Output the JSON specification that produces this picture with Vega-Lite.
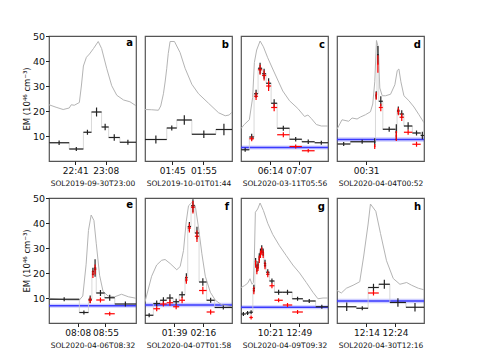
{
"$schema": "https://vega.github.io/schema/vega-lite/v6.json",
"background": "white",
"padding": {"left": 21, "top": 30, "right": 5, "bottom": 5},
"config": {
 "font": "DejaVu Sans",
 "view": {"stroke": "#555555", "strokeWidth": 1.2},
 "axis": {"grid": false, "domain": false, "tickColor": "#222222", "labelColor": "#111111", "titleColor": "#111111", "titleFontWeight": "normal", "labelOverlap": false, "labelFlush": false},
 "axisX": {"labelFontSize": 9, "titleFontSize": 7.5, "tickSize": 3.5, "labelPadding": 1.5, "titlePadding": 4,
   "labelExpr": "(utchours(datum.value) < 10 ? '0' : '') + utchours(datum.value) + ':' + (utcminutes(datum.value) < 10 ? '0' : '') + utcminutes(datum.value)"},
 "axisY": {"labelFontSize": 9.5, "titleFontSize": 8.5, "tickSize": 3.5, "labelPadding": 1, "titlePadding": 1},
 "title": {"fontSize": 10, "fontWeight": "bold", "anchor": "end", "frame": "group", "offset": -14, "dx": -3, "color": "#000000"}
},
"data": {"values": [
{"p":"a","k":"c","t":"2019-09-30T22:17:36Z","v":22.5},
{"p":"a","k":"c","t":"2019-09-30T22:23:54Z","v":21.5},
{"p":"a","k":"c","t":"2019-09-30T22:30:12Z","v":20.6},
{"p":"a","k":"c","t":"2019-09-30T22:35:36Z","v":21.2},
{"p":"a","k":"c","t":"2019-09-30T22:37:24Z","v":22.5},
{"p":"a","k":"c","t":"2019-09-30T22:40:06Z","v":22.3},
{"p":"a","k":"c","t":"2019-09-30T22:44:36Z","v":23.4},
{"p":"a","k":"c","t":"2019-09-30T22:46:24Z","v":30.0},
{"p":"a","k":"c","t":"2019-09-30T22:48:12Z","v":38.0},
{"p":"a","k":"c","t":"2019-09-30T22:50:54Z","v":41.5},
{"p":"a","k":"c","t":"2019-09-30T22:53:36Z","v":42.8},
{"p":"a","k":"c","t":"2019-09-30T22:57:12Z","v":45.0},
{"p":"a","k":"c","t":"2019-09-30T23:01:24Z","v":47.8},
{"p":"a","k":"c","t":"2019-09-30T23:04:24Z","v":45.0},
{"p":"a","k":"c","t":"2019-09-30T23:08:54Z","v":37.1},
{"p":"a","k":"c","t":"2019-09-30T23:13:24Z","v":30.1},
{"p":"a","k":"c","t":"2019-09-30T23:17:54Z","v":26.3},
{"p":"a","k":"c","t":"2019-09-30T23:23:57Z","v":24.4},
{"p":"a","k":"c","t":"2019-09-30T23:29:36Z","v":23.7},
{"p":"a","k":"c","t":"2019-09-30T23:35:00Z","v":22.1},
{"p":"a","k":"b","t":"2019-09-30T22:26:36Z","t0":"2019-09-30T22:17:36Z","t1":"2019-09-30T22:35:36Z","v":7.3,"e":0.9},
{"p":"a","k":"b","t":"2019-09-30T22:41:54Z","t0":"2019-09-30T22:35:36Z","t1":"2019-09-30T22:48:12Z","v":4.8,"e":0.8},
{"p":"a","k":"b","t":"2019-09-30T22:51:48Z","t0":"2019-09-30T22:48:12Z","t1":"2019-09-30T22:55:24Z","v":11.5,"e":1.0},
{"p":"a","k":"b","t":"2019-09-30T22:59:54Z","t0":"2019-09-30T22:55:24Z","t1":"2019-09-30T23:04:24Z","v":19.6,"e":1.8},
{"p":"a","k":"b","t":"2019-09-30T23:07:33Z","t0":"2019-09-30T23:04:24Z","t1":"2019-09-30T23:10:42Z","v":13.6,"e":1.3},
{"p":"a","k":"b","t":"2019-09-30T23:15:39Z","t0":"2019-09-30T23:10:42Z","t1":"2019-09-30T23:20:36Z","v":9.4,"e":1.3},
{"p":"a","k":"b","t":"2019-09-30T23:27:48Z","t0":"2019-09-30T23:20:36Z","t1":"2019-09-30T23:35:00Z","v":7.5,"e":1.0},

{"p":"b","k":"c","t":"2019-10-01T01:36:12Z","v":20.6},
{"p":"b","k":"c","t":"2019-10-01T01:38:22Z","v":20.5},
{"p":"b","k":"c","t":"2019-10-01T01:40:31Z","v":20.3},
{"p":"b","k":"c","t":"2019-10-01T01:41:16Z","v":22.0},
{"p":"b","k":"c","t":"2019-10-01T01:42:08Z","v":26.9},
{"p":"b","k":"c","t":"2019-10-01T01:42:43Z","v":32.0},
{"p":"b","k":"c","t":"2019-10-01T01:43:12Z","v":37.1},
{"p":"b","k":"c","t":"2019-10-01T01:43:41Z","v":43.0},
{"p":"b","k":"c","t":"2019-10-01T01:44:16Z","v":47.8},
{"p":"b","k":"c","t":"2019-10-01T01:45:41Z","v":47.8},
{"p":"b","k":"c","t":"2019-10-01T01:47:29Z","v":43.4},
{"p":"b","k":"c","t":"2019-10-01T01:49:06Z","v":37.1},
{"p":"b","k":"c","t":"2019-10-01T01:51:16Z","v":30.7},
{"p":"b","k":"c","t":"2019-10-01T01:53:26Z","v":26.9},
{"p":"b","k":"c","t":"2019-10-01T01:56:39Z","v":23.1},
{"p":"b","k":"c","t":"2019-10-01T01:59:53Z","v":19.3},
{"p":"b","k":"c","t":"2019-10-01T02:02:01Z","v":18.1},
{"p":"b","k":"c","t":"2019-10-01T02:03:18Z","v":18.4},
{"p":"b","k":"c","t":"2019-10-01T02:04:12Z","v":19.6},
{"p":"b","k":"b","t":"2019-10-01T01:39:42Z","t0":"2019-10-01T01:36:12Z","t1":"2019-10-01T01:43:12Z","v":8.6,"e":1.6},
{"p":"b","k":"b","t":"2019-10-01T01:44:49Z","t0":"2019-10-01T01:43:12Z","t1":"2019-10-01T01:46:26Z","v":13.2,"e":1.0},
{"p":"b","k":"b","t":"2019-10-01T01:48:51Z","t0":"2019-10-01T01:46:26Z","t1":"2019-10-01T01:51:16Z","v":16.4,"e":1.9},
{"p":"b","k":"b","t":"2019-10-01T01:55:08Z","t0":"2019-10-01T01:51:16Z","t1":"2019-10-01T01:59:00Z","v":10.7,"e":1.5},
{"p":"b","k":"b","t":"2019-10-01T02:01:36Z","t0":"2019-10-01T01:59:00Z","t1":"2019-10-01T02:04:12Z","v":12.6,"e":2.3},

{"p":"c","k":"g","v":5.4,"lo":4.6,"hi":6.2},
{"p":"c","k":"c","t":"2020-03-11T05:20:18Z","v":13.0},
{"p":"c","k":"c","t":"2020-03-11T05:26:25Z","v":14.6},
{"p":"c","k":"c","t":"2020-03-11T05:35:41Z","v":16.5},
{"p":"c","k":"c","t":"2020-03-11T05:41:47Z","v":25.4},
{"p":"c","k":"c","t":"2020-03-11T05:44:57Z","v":39.4},
{"p":"c","k":"c","t":"2020-03-11T05:49:12Z","v":44.4},
{"p":"c","k":"c","t":"2020-03-11T05:55:30Z","v":48.0},
{"p":"c","k":"c","t":"2020-03-11T06:01:37Z","v":45.7},
{"p":"c","k":"c","t":"2020-03-11T06:09:35Z","v":41.3},
{"p":"c","k":"c","t":"2020-03-11T06:18:51Z","v":36.8},
{"p":"c","k":"c","t":"2020-03-11T06:28:07Z","v":32.4},
{"p":"c","k":"c","t":"2020-03-11T06:37:23Z","v":28.0},
{"p":"c","k":"c","t":"2020-03-11T06:49:48Z","v":24.1},
{"p":"c","k":"c","t":"2020-03-11T07:05:11Z","v":21.0},
{"p":"c","k":"c","t":"2020-03-11T07:17:35Z","v":17.8},
{"p":"c","k":"c","t":"2020-03-11T07:23:43Z","v":18.4},
{"p":"c","k":"c","t":"2020-03-11T07:30:01Z","v":17.0},
{"p":"c","k":"c","t":"2020-03-11T07:39:17Z","v":14.6},
{"p":"c","k":"c","t":"2020-03-11T07:48:32Z","v":14.0},
{"p":"c","k":"c","t":"2020-03-11T08:00:48Z","v":14.0},
{"p":"c","k":"b","t":"2020-03-11T05:28:00Z","t0":"2020-03-11T05:20:18Z","t1":"2020-03-11T05:35:41Z","v":4.5,"e":0.8},
{"p":"c","k":"b","t":"2020-03-11T05:40:02Z","t0":"2020-03-11T05:35:41Z","t1":"2020-03-11T05:44:23Z","v":9.6,"e":1.3},
{"p":"c","k":"b","t":"2020-03-11T05:48:06Z","t0":"2020-03-11T05:44:23Z","t1":"2020-03-11T05:51:48Z","v":26.9,"e":1.6},
{"p":"c","k":"b","t":"2020-03-11T05:55:30Z","t0":"2020-03-11T05:51:48Z","t1":"2020-03-11T05:59:13Z","v":37.1,"e":2.2},
{"p":"c","k":"b","t":"2020-03-11T06:02:56Z","t0":"2020-03-11T05:59:13Z","t1":"2020-03-11T06:06:38Z","v":34.9,"e":2.0},
{"p":"c","k":"b","t":"2020-03-11T06:11:16Z","t0":"2020-03-11T06:06:38Z","t1":"2020-03-11T06:15:53Z","v":31.1,"e":2.0},
{"p":"c","k":"b","t":"2020-03-11T06:21:27Z","t0":"2020-03-11T06:15:53Z","t1":"2020-03-11T06:27:01Z","v":23.1,"e":1.6},
{"p":"c","k":"b","t":"2020-03-11T06:38:24Z","t0":"2020-03-11T06:27:01Z","t1":"2020-03-11T06:49:48Z","v":13.1,"e":1.0},
{"p":"c","k":"b","t":"2020-03-11T07:01:12Z","t0":"2020-03-11T06:49:48Z","t1":"2020-03-11T07:12:35Z","v":8.7,"e":0.9},
{"p":"c","k":"b","t":"2020-03-11T07:24:21Z","t0":"2020-03-11T07:12:35Z","t1":"2020-03-11T07:36:07Z","v":7.7,"e":0.9},
{"p":"c","k":"b","t":"2020-03-11T07:48:28Z","t0":"2020-03-11T07:36:07Z","t1":"2020-03-11T08:00:48Z","v":7.3,"e":0.8},
{"p":"c","k":"r","t":"2020-03-11T05:40:02Z","t0":"2020-03-11T05:35:41Z","t1":"2020-03-11T05:44:23Z","v":8.9,"e":1.0},
{"p":"c","k":"r","t":"2020-03-11T05:48:06Z","t0":"2020-03-11T05:44:23Z","t1":"2020-03-11T05:51:48Z","v":25.9,"e":1.5},
{"p":"c","k":"r","t":"2020-03-11T05:55:30Z","t0":"2020-03-11T05:51:48Z","t1":"2020-03-11T05:59:13Z","v":36.5,"e":2.0},
{"p":"c","k":"r","t":"2020-03-11T06:02:56Z","t0":"2020-03-11T05:59:13Z","t1":"2020-03-11T06:06:38Z","v":34.2,"e":2.0},
{"p":"c","k":"r","t":"2020-03-11T06:11:16Z","t0":"2020-03-11T06:06:38Z","t1":"2020-03-11T06:15:53Z","v":30.0,"e":2.0},
{"p":"c","k":"r","t":"2020-03-11T06:21:27Z","t0":"2020-03-11T06:15:53Z","t1":"2020-03-11T06:27:01Z","v":21.4,"e":1.5},
{"p":"c","k":"r","t":"2020-03-11T06:38:24Z","t0":"2020-03-11T06:27:01Z","t1":"2020-03-11T06:49:48Z","v":10.5,"e":1.0},
{"p":"c","k":"r","t":"2020-03-11T07:01:12Z","t0":"2020-03-11T06:49:48Z","t1":"2020-03-11T07:12:35Z","v":5.8,"e":0.8},
{"p":"c","k":"r","t":"2020-03-11T07:24:21Z","t0":"2020-03-11T07:12:35Z","t1":"2020-03-11T07:36:07Z","v":4.1,"e":0.7},

{"p":"d","k":"g","v":8.6,"lo":7.7,"hi":9.5},
{"p":"d","k":"c","t":"2020-04-03T23:34:10Z","v":12.7},
{"p":"d","k":"c","t":"2020-04-03T23:43:58Z","v":16.5},
{"p":"d","k":"c","t":"2020-04-03T23:56:54Z","v":15.9},
{"p":"d","k":"c","t":"2020-04-04T00:03:34Z","v":17.2},
{"p":"d","k":"c","t":"2020-04-04T00:13:22Z","v":16.8},
{"p":"d","k":"c","t":"2020-04-04T00:19:50Z","v":17.6},
{"p":"d","k":"c","t":"2020-04-04T00:29:38Z","v":18.5},
{"p":"d","k":"c","t":"2020-04-04T00:39:26Z","v":19.7},
{"p":"d","k":"c","t":"2020-04-04T00:43:56Z","v":22.8},
{"p":"d","k":"c","t":"2020-04-04T00:47:52Z","v":31.7},
{"p":"d","k":"c","t":"2020-04-04T00:51:11Z","v":48.2},
{"p":"d","k":"c","t":"2020-04-04T00:54:31Z","v":45.6},
{"p":"d","k":"c","t":"2020-04-04T00:57:40Z","v":29.2},
{"p":"d","k":"c","t":"2020-04-04T01:02:22Z","v":26.1},
{"p":"d","k":"c","t":"2020-04-04T01:08:50Z","v":26.1},
{"p":"d","k":"c","t":"2020-04-04T01:18:38Z","v":26.7},
{"p":"d","k":"c","t":"2020-04-04T01:27:04Z","v":30.5},
{"p":"d","k":"c","t":"2020-04-04T01:31:46Z","v":36.2},
{"p":"d","k":"c","t":"2020-04-04T01:34:54Z","v":36.8},
{"p":"d","k":"c","t":"2020-04-04T01:38:49Z","v":31.7},
{"p":"d","k":"c","t":"2020-04-04T01:44:42Z","v":26.1},
{"p":"d","k":"c","t":"2020-04-04T01:54:30Z","v":24.1},
{"p":"d","k":"c","t":"2020-04-04T02:04:18Z","v":21.6},
{"p":"d","k":"c","t":"2020-04-04T02:14:06Z","v":18.5},
{"p":"d","k":"c","t":"2020-04-04T02:23:54Z","v":15.3},
{"p":"d","k":"b","t":"2020-04-03T23:47:12Z","t0":"2020-04-03T23:34:10Z","t1":"2020-04-04T00:00:14Z","v":6.8,"e":0.8},
{"p":"d","k":"b","t":"2020-04-04T00:23:16Z","t0":"2020-04-04T00:00:14Z","t1":"2020-04-04T00:46:17Z","v":7.7,"e":0.8},
{"p":"d","k":"b","t":"2020-04-04T00:47:46Z","t0":"2020-04-04T00:46:17Z","t1":"2020-04-04T00:49:14Z","v":7.6,"e":1.5},
{"p":"d","k":"b","t":"2020-04-04T00:50:42Z","t0":"2020-04-04T00:49:14Z","t1":"2020-04-04T00:52:10Z","v":26.4,"e":1.5},
{"p":"d","k":"b","t":"2020-04-04T00:53:56Z","t0":"2020-04-04T00:52:10Z","t1":"2020-04-04T00:55:42Z","v":42.5,"e":3.5},
{"p":"d","k":"b","t":"2020-04-04T00:59:37Z","t0":"2020-04-04T00:55:42Z","t1":"2020-04-04T01:03:32Z","v":23.9,"e":2.0},
{"p":"d","k":"b","t":"2020-04-04T01:15:59Z","t0":"2020-04-04T01:03:32Z","t1":"2020-04-04T01:28:26Z","v":12.7,"e":1.0},
{"p":"d","k":"b","t":"2020-04-04T01:29:54Z","t0":"2020-04-04T01:28:26Z","t1":"2020-04-04T01:31:22Z","v":11.5,"e":3.2},
{"p":"d","k":"b","t":"2020-04-04T01:33:49Z","t0":"2020-04-04T01:31:22Z","t1":"2020-04-04T01:36:16Z","v":20.3,"e":1.5},
{"p":"d","k":"b","t":"2020-04-04T01:40:29Z","t0":"2020-04-04T01:36:16Z","t1":"2020-04-04T01:44:42Z","v":18.8,"e":1.5},
{"p":"d","k":"b","t":"2020-04-04T01:52:56Z","t0":"2020-04-04T01:44:42Z","t1":"2020-04-04T02:01:10Z","v":14.0,"e":1.5},
{"p":"d","k":"b","t":"2020-04-04T02:09:18Z","t0":"2020-04-04T02:01:10Z","t1":"2020-04-04T02:17:26Z","v":11.2,"e":1.0},
{"p":"d","k":"b","t":"2020-04-04T02:20:40Z","t0":"2020-04-04T02:17:26Z","t1":"2020-04-04T02:23:54Z","v":10.2,"e":1.5},
{"p":"d","k":"r","t":"2020-04-04T00:47:46Z","t0":"2020-04-04T00:46:17Z","t1":"2020-04-04T00:49:14Z","v":5.8,"e":1.0},
{"p":"d","k":"r","t":"2020-04-04T00:50:42Z","t0":"2020-04-04T00:49:14Z","t1":"2020-04-04T00:52:10Z","v":26.0,"e":1.5},
{"p":"d","k":"r","t":"2020-04-04T00:53:56Z","t0":"2020-04-04T00:52:10Z","t1":"2020-04-04T00:55:42Z","v":38.8,"e":3.5},
{"p":"d","k":"r","t":"2020-04-04T00:59:37Z","t0":"2020-04-04T00:55:42Z","t1":"2020-04-04T01:03:32Z","v":21.4,"e":1.5},
{"p":"d","k":"r","t":"2020-04-04T01:29:54Z","t0":"2020-04-04T01:28:26Z","t1":"2020-04-04T01:31:22Z","v":10.0,"e":2.0},
{"p":"d","k":"r","t":"2020-04-04T01:33:49Z","t0":"2020-04-04T01:31:22Z","t1":"2020-04-04T01:36:16Z","v":19.8,"e":1.5},
{"p":"d","k":"r","t":"2020-04-04T01:40:29Z","t0":"2020-04-04T01:36:16Z","t1":"2020-04-04T01:44:42Z","v":17.5,"e":1.5},
{"p":"d","k":"r","t":"2020-04-04T01:52:56Z","t0":"2020-04-04T01:44:42Z","t1":"2020-04-04T02:01:10Z","v":11.5,"e":1.0},
{"p":"d","k":"r","t":"2020-04-04T02:09:18Z","t0":"2020-04-04T02:01:10Z","t1":"2020-04-04T02:17:26Z","v":6.7,"e":1.0},

{"p":"e","k":"g","v":6.9,"lo":6.1,"hi":7.7},
{"p":"e","k":"c","t":"2020-04-06T07:19:06Z","v":9.9},
{"p":"e","k":"c","t":"2020-04-06T07:50:45Z","v":9.2},
{"p":"e","k":"c","t":"2020-04-06T08:10:42Z","v":9.2},
{"p":"e","k":"c","t":"2020-04-06T08:16:33Z","v":10.8},
{"p":"e","k":"c","t":"2020-04-06T08:22:13Z","v":23.5},
{"p":"e","k":"c","t":"2020-04-06T08:26:11Z","v":37.0},
{"p":"e","k":"c","t":"2020-04-06T08:30:49Z","v":43.2},
{"p":"e","k":"c","t":"2020-04-06T08:35:28Z","v":41.0},
{"p":"e","k":"c","t":"2020-04-06T08:39:25Z","v":31.9},
{"p":"e","k":"c","t":"2020-04-06T08:45:06Z","v":19.1},
{"p":"e","k":"c","t":"2020-04-06T08:50:57Z","v":12.7},
{"p":"e","k":"c","t":"2020-04-06T08:59:33Z","v":10.8},
{"p":"e","k":"c","t":"2020-04-06T09:10:54Z","v":10.5},
{"p":"e","k":"c","t":"2020-04-06T09:22:25Z","v":11.5},
{"p":"e","k":"c","t":"2020-04-06T09:33:57Z","v":10.5},
{"p":"e","k":"c","t":"2020-04-06T09:47:00Z","v":9.9},
{"p":"e","k":"b","t":"2020-04-06T07:44:54Z","t0":"2020-04-06T07:19:06Z","t1":"2020-04-06T08:10:42Z","v":9.5,"e":0.8},
{"p":"e","k":"b","t":"2020-04-06T08:18:26Z","t0":"2020-04-06T08:10:42Z","t1":"2020-04-06T08:26:11Z","v":4.2,"e":0.8},
{"p":"e","k":"b","t":"2020-04-06T08:29:06Z","t0":"2020-04-06T08:26:11Z","t1":"2020-04-06T08:32:02Z","v":9.5,"e":1.5},
{"p":"e","k":"b","t":"2020-04-06T08:33:45Z","t0":"2020-04-06T08:32:02Z","t1":"2020-04-06T08:35:28Z","v":20.6,"e":1.5},
{"p":"e","k":"b","t":"2020-04-06T08:37:26Z","t0":"2020-04-06T08:35:28Z","t1":"2020-04-06T08:39:25Z","v":22.0,"e":3.5},
{"p":"e","k":"b","t":"2020-04-06T08:46:34Z","t0":"2020-04-06T08:39:25Z","t1":"2020-04-06T08:53:42Z","v":12.0,"e":1.2},
{"p":"e","k":"b","t":"2020-04-06T09:02:18Z","t0":"2020-04-06T08:53:42Z","t1":"2020-04-06T09:10:54Z","v":10.1,"e":1.2},
{"p":"e","k":"b","t":"2020-04-06T09:28:57Z","t0":"2020-04-06T09:10:54Z","t1":"2020-04-06T09:47:00Z","v":7.6,"e":1.0},
{"p":"e","k":"r","t":"2020-04-06T08:29:06Z","t0":"2020-04-06T08:26:11Z","t1":"2020-04-06T08:32:02Z","v":9.1,"e":1.2},
{"p":"e","k":"r","t":"2020-04-06T08:33:45Z","t0":"2020-04-06T08:32:02Z","t1":"2020-04-06T08:35:28Z","v":19.5,"e":1.5},
{"p":"e","k":"r","t":"2020-04-06T08:37:26Z","t0":"2020-04-06T08:35:28Z","t1":"2020-04-06T08:39:25Z","v":21.4,"e":2.0},
{"p":"e","k":"r","t":"2020-04-06T08:46:34Z","t0":"2020-04-06T08:39:25Z","t1":"2020-04-06T08:53:42Z","v":9.2,"e":1.0},
{"p":"e","k":"r","t":"2020-04-06T09:02:18Z","t0":"2020-04-06T08:53:42Z","t1":"2020-04-06T09:10:54Z","v":3.7,"e":0.8},

{"p":"f","k":"g","v":7.2,"lo":6.3,"hi":8.1},
{"p":"f","k":"c","t":"2020-04-07T01:01:30Z","v":8.5},
{"p":"f","k":"c","t":"2020-04-07T01:05:46Z","v":13.6},
{"p":"f","k":"c","t":"2020-04-07T01:10:02Z","v":18.7},
{"p":"f","k":"c","t":"2020-04-07T01:16:31Z","v":23.2},
{"p":"f","k":"c","t":"2020-04-07T01:22:59Z","v":25.1},
{"p":"f","k":"c","t":"2020-04-07T01:27:23Z","v":25.4},
{"p":"f","k":"c","t":"2020-04-07T01:33:51Z","v":23.8},
{"p":"f","k":"c","t":"2020-04-07T01:42:23Z","v":21.3},
{"p":"f","k":"c","t":"2020-04-07T01:46:47Z","v":22.6},
{"p":"f","k":"c","t":"2020-04-07T01:51:04Z","v":29.0},
{"p":"f","k":"c","t":"2020-04-07T01:54:33Z","v":40.5},
{"p":"f","k":"c","t":"2020-04-07T01:57:32Z","v":46.9},
{"p":"f","k":"c","t":"2020-04-07T02:01:48Z","v":48.2},
{"p":"f","k":"c","t":"2020-04-07T02:06:12Z","v":46.9},
{"p":"f","k":"c","t":"2020-04-07T02:10:28Z","v":38.0},
{"p":"f","k":"c","t":"2020-04-07T02:14:44Z","v":27.7},
{"p":"f","k":"c","t":"2020-04-07T02:19:08Z","v":18.7},
{"p":"f","k":"c","t":"2020-04-07T02:25:37Z","v":12.3},
{"p":"f","k":"c","t":"2020-04-07T02:32:05Z","v":9.1},
{"p":"f","k":"c","t":"2020-04-07T02:40:37Z","v":7.2},
{"p":"f","k":"c","t":"2020-04-07T02:53:30Z","v":6.5},
{"p":"f","k":"b","t":"2020-04-07T01:06:52Z","t0":"2020-04-07T01:01:30Z","t1":"2020-04-07T01:12:14Z","v":3.1,"e":0.8},
{"p":"f","k":"b","t":"2020-04-07T01:16:34Z","t0":"2020-04-07T01:12:14Z","t1":"2020-04-07T01:20:55Z","v":7.8,"e":1.2},
{"p":"f","k":"b","t":"2020-04-07T01:25:11Z","t0":"2020-04-07T01:20:55Z","t1":"2020-04-07T01:29:27Z","v":9.1,"e":1.2},
{"p":"f","k":"b","t":"2020-04-07T01:33:36Z","t0":"2020-04-07T01:29:27Z","t1":"2020-04-07T01:37:44Z","v":10.0,"e":1.5},
{"p":"f","k":"b","t":"2020-04-07T01:41:37Z","t0":"2020-04-07T01:37:44Z","t1":"2020-04-07T01:45:30Z","v":8.5,"e":1.2},
{"p":"f","k":"b","t":"2020-04-07T01:49:15Z","t0":"2020-04-07T01:45:30Z","t1":"2020-04-07T01:53:00Z","v":11.3,"e":1.3},
{"p":"f","k":"b","t":"2020-04-07T01:54:45Z","t0":"2020-04-07T01:53:00Z","t1":"2020-04-07T01:56:30Z","v":18.1,"e":1.8},
{"p":"f","k":"b","t":"2020-04-07T01:58:38Z","t0":"2020-04-07T01:56:30Z","t1":"2020-04-07T02:00:46Z","v":38.6,"e":1.8},
{"p":"f","k":"b","t":"2020-04-07T02:03:14Z","t0":"2020-04-07T02:00:46Z","t1":"2020-04-07T02:05:41Z","v":46.9,"e":2.6},
{"p":"f","k":"b","t":"2020-04-07T02:08:24Z","t0":"2020-04-07T02:05:41Z","t1":"2020-04-07T02:11:07Z","v":36.0,"e":2.5},
{"p":"f","k":"b","t":"2020-04-07T02:15:58Z","t0":"2020-04-07T02:11:07Z","t1":"2020-04-07T02:20:49Z","v":16.4,"e":1.5},
{"p":"f","k":"b","t":"2020-04-07T02:26:00Z","t0":"2020-04-07T02:20:49Z","t1":"2020-04-07T02:31:10Z","v":9.1,"e":1.0},
{"p":"f","k":"b","t":"2020-04-07T02:42:20Z","t0":"2020-04-07T02:31:10Z","t1":"2020-04-07T02:53:30Z","v":6.2,"e":0.8},
{"p":"f","k":"r","t":"2020-04-07T01:16:34Z","t0":"2020-04-07T01:12:14Z","t1":"2020-04-07T01:20:55Z","v":5.7,"e":1.0},
{"p":"f","k":"r","t":"2020-04-07T01:25:11Z","t0":"2020-04-07T01:20:55Z","t1":"2020-04-07T01:29:27Z","v":7.6,"e":1.0},
{"p":"f","k":"r","t":"2020-04-07T01:33:36Z","t0":"2020-04-07T01:29:27Z","t1":"2020-04-07T01:37:44Z","v":8.1,"e":1.2},
{"p":"f","k":"r","t":"2020-04-07T01:41:37Z","t0":"2020-04-07T01:37:44Z","t1":"2020-04-07T01:45:30Z","v":6.5,"e":1.0},
{"p":"f","k":"r","t":"2020-04-07T01:49:15Z","t0":"2020-04-07T01:45:30Z","t1":"2020-04-07T01:53:00Z","v":9.1,"e":1.2},
{"p":"f","k":"r","t":"2020-04-07T01:54:45Z","t0":"2020-04-07T01:53:00Z","t1":"2020-04-07T01:56:30Z","v":17.2,"e":1.5},
{"p":"f","k":"r","t":"2020-04-07T01:58:38Z","t0":"2020-04-07T01:56:30Z","t1":"2020-04-07T02:00:46Z","v":38.0,"e":1.8},
{"p":"f","k":"r","t":"2020-04-07T02:03:14Z","t0":"2020-04-07T02:00:46Z","t1":"2020-04-07T02:05:41Z","v":46.3,"e":2.5},
{"p":"f","k":"r","t":"2020-04-07T02:08:24Z","t0":"2020-04-07T02:05:41Z","t1":"2020-04-07T02:11:07Z","v":34.7,"e":2.3},
{"p":"f","k":"r","t":"2020-04-07T02:15:58Z","t0":"2020-04-07T02:11:07Z","t1":"2020-04-07T02:20:49Z","v":13.0,"e":1.5},
{"p":"f","k":"r","t":"2020-04-07T02:26:00Z","t0":"2020-04-07T02:20:49Z","t1":"2020-04-07T02:31:10Z","v":4.4,"e":1.0},

{"p":"g","k":"g","v":6.3,"lo":5.5,"hi":7.1},
{"p":"g","k":"c","t":"2020-04-09T07:50:54Z","v":14.2},
{"p":"g","k":"c","t":"2020-04-09T08:07:59Z","v":14.9},
{"p":"g","k":"c","t":"2020-04-09T08:25:04Z","v":15.9},
{"p":"g","k":"c","t":"2020-04-09T08:37:29Z","v":17.7},
{"p":"g","k":"c","t":"2020-04-09T08:47:50Z","v":15.5},
{"p":"g","k":"c","t":"2020-04-09T08:54:33Z","v":16.2},
{"p":"g","k":"c","t":"2020-04-09T08:59:44Z","v":26.4},
{"p":"g","k":"c","t":"2020-04-09T09:04:54Z","v":44.3},
{"p":"g","k":"c","t":"2020-04-09T09:16:49Z","v":45.6},
{"p":"g","k":"c","t":"2020-04-09T09:29:14Z","v":48.0},
{"p":"g","k":"c","t":"2020-04-09T09:46:18Z","v":45.0},
{"p":"g","k":"c","t":"2020-04-09T10:08:34Z","v":39.9},
{"p":"g","k":"c","t":"2020-04-09T10:34:26Z","v":35.4},
{"p":"g","k":"c","t":"2020-04-09T11:09:06Z","v":30.9},
{"p":"g","k":"c","t":"2020-04-09T11:43:47Z","v":27.0},
{"p":"g","k":"c","t":"2020-04-09T12:17:56Z","v":23.2},
{"p":"g","k":"c","t":"2020-04-09T12:52:36Z","v":20.0},
{"p":"g","k":"c","t":"2020-04-09T13:27:17Z","v":16.2},
{"p":"g","k":"c","t":"2020-04-09T14:01:26Z","v":12.3},
{"p":"g","k":"c","t":"2020-04-09T14:27:19Z","v":9.7},
{"p":"g","k":"c","t":"2020-04-09T14:53:11Z","v":10.0},
{"p":"g","k":"c","t":"2020-04-09T15:19:06Z","v":10.0},
{"p":"g","k":"b","t":"2020-04-09T08:03:19Z","t0":"2020-04-09T07:50:54Z","t1":"2020-04-09T08:15:44Z","v":3.6,"e":0.8},
{"p":"g","k":"b","t":"2020-04-09T08:24:47Z","t0":"2020-04-09T08:15:44Z","t1":"2020-04-09T08:33:51Z","v":4.0,"e":0.8},
{"p":"g","k":"b","t":"2020-04-09T08:42:55Z","t0":"2020-04-09T08:33:51Z","t1":"2020-04-09T08:51:58Z","v":4.3,"e":0.8},
{"p":"g","k":"b","t":"2020-04-09T08:57:09Z","t0":"2020-04-09T08:51:58Z","t1":"2020-04-09T09:02:19Z","v":13.8,"e":1.5},
{"p":"g","k":"b","t":"2020-04-09T09:06:12Z","t0":"2020-04-09T09:02:19Z","t1":"2020-04-09T09:10:05Z","v":24.5,"e":1.5},
{"p":"g","k":"b","t":"2020-04-09T09:12:40Z","t0":"2020-04-09T09:10:05Z","t1":"2020-04-09T09:15:15Z","v":21.9,"e":1.5},
{"p":"g","k":"b","t":"2020-04-09T09:18:37Z","t0":"2020-04-09T09:15:15Z","t1":"2020-04-09T09:21:59Z","v":23.2,"e":1.5},
{"p":"g","k":"b","t":"2020-04-09T09:25:05Z","t0":"2020-04-09T09:21:59Z","t1":"2020-04-09T09:28:11Z","v":26.4,"e":1.5},
{"p":"g","k":"b","t":"2020-04-09T09:31:18Z","t0":"2020-04-09T09:28:11Z","t1":"2020-04-09T09:34:24Z","v":28.3,"e":1.5},
{"p":"g","k":"b","t":"2020-04-09T09:37:46Z","t0":"2020-04-09T09:34:24Z","t1":"2020-04-09T09:41:08Z","v":29.6,"e":1.5},
{"p":"g","k":"b","t":"2020-04-09T09:45:00Z","t0":"2020-04-09T09:41:08Z","t1":"2020-04-09T09:48:53Z","v":28.3,"e":1.5},
{"p":"g","k":"b","t":"2020-04-09T09:54:35Z","t0":"2020-04-09T09:48:53Z","t1":"2020-04-09T10:00:17Z","v":23.8,"e":1.5},
{"p":"g","k":"b","t":"2020-04-09T10:08:49Z","t0":"2020-04-09T10:00:17Z","t1":"2020-04-09T10:17:21Z","v":20.3,"e":1.2},
{"p":"g","k":"b","t":"2020-04-09T10:30:18Z","t0":"2020-04-09T10:17:21Z","t1":"2020-04-09T10:43:14Z","v":16.8,"e":1.0},
{"p":"g","k":"b","t":"2020-04-09T11:04:42Z","t0":"2020-04-09T10:43:14Z","t1":"2020-04-09T11:26:11Z","v":12.3,"e":1.0},
{"p":"g","k":"b","t":"2020-04-09T11:50:30Z","t0":"2020-04-09T11:26:11Z","t1":"2020-04-09T12:14:50Z","v":12.3,"e":1.0},
{"p":"g","k":"b","t":"2020-04-09T12:42:16Z","t0":"2020-04-09T12:14:50Z","t1":"2020-04-09T13:09:41Z","v":9.7,"e":0.8},
{"p":"g","k":"b","t":"2020-04-09T13:42:32Z","t0":"2020-04-09T13:09:41Z","t1":"2020-04-09T14:15:24Z","v":8.8,"e":0.8},
{"p":"g","k":"b","t":"2020-04-09T14:47:15Z","t0":"2020-04-09T14:15:24Z","t1":"2020-04-09T15:19:06Z","v":6.5,"e":0.8},
{"p":"g","k":"r","t":"2020-04-09T08:42:55Z","t0":"2020-04-09T08:33:51Z","t1":"2020-04-09T08:51:58Z","v":2.2,"e":0.8},
{"p":"g","k":"r","t":"2020-04-09T08:57:09Z","t0":"2020-04-09T08:51:58Z","t1":"2020-04-09T09:02:19Z","v":13.0,"e":1.5},
{"p":"g","k":"r","t":"2020-04-09T09:06:12Z","t0":"2020-04-09T09:02:19Z","t1":"2020-04-09T09:10:05Z","v":23.6,"e":1.5},
{"p":"g","k":"r","t":"2020-04-09T09:12:40Z","t0":"2020-04-09T09:10:05Z","t1":"2020-04-09T09:15:15Z","v":21.0,"e":1.5},
{"p":"g","k":"r","t":"2020-04-09T09:18:37Z","t0":"2020-04-09T09:15:15Z","t1":"2020-04-09T09:21:59Z","v":22.3,"e":1.5},
{"p":"g","k":"r","t":"2020-04-09T09:25:05Z","t0":"2020-04-09T09:21:59Z","t1":"2020-04-09T09:28:11Z","v":25.5,"e":1.5},
{"p":"g","k":"r","t":"2020-04-09T09:31:18Z","t0":"2020-04-09T09:28:11Z","t1":"2020-04-09T09:34:24Z","v":27.5,"e":1.5},
{"p":"g","k":"r","t":"2020-04-09T09:37:46Z","t0":"2020-04-09T09:34:24Z","t1":"2020-04-09T09:41:08Z","v":28.8,"e":1.5},
{"p":"g","k":"r","t":"2020-04-09T09:45:00Z","t0":"2020-04-09T09:41:08Z","t1":"2020-04-09T09:48:53Z","v":27.5,"e":1.5},
{"p":"g","k":"r","t":"2020-04-09T09:54:35Z","t0":"2020-04-09T09:48:53Z","t1":"2020-04-09T10:00:17Z","v":23.0,"e":1.5},
{"p":"g","k":"r","t":"2020-04-09T10:08:49Z","t0":"2020-04-09T10:00:17Z","t1":"2020-04-09T10:17:21Z","v":19.5,"e":1.2},
{"p":"g","k":"r","t":"2020-04-09T10:30:18Z","t0":"2020-04-09T10:17:21Z","t1":"2020-04-09T10:43:14Z","v":14.9,"e":1.0},
{"p":"g","k":"r","t":"2020-04-09T11:04:42Z","t0":"2020-04-09T10:43:14Z","t1":"2020-04-09T11:26:11Z","v":9.1,"e":0.8},
{"p":"g","k":"r","t":"2020-04-09T11:50:30Z","t0":"2020-04-09T11:26:11Z","t1":"2020-04-09T12:14:50Z","v":7.2,"e":0.8},
{"p":"g","k":"r","t":"2020-04-09T12:42:16Z","t0":"2020-04-09T12:14:50Z","t1":"2020-04-09T13:09:41Z","v":4.4,"e":0.8},

{"p":"h","k":"g","v":8.8,"lo":7.9,"hi":9.7},
{"p":"h","k":"c","t":"2020-04-30T12:03:39Z","v":13.0},
{"p":"h","k":"c","t":"2020-04-30T12:05:10Z","v":12.0},
{"p":"h","k":"c","t":"2020-04-30T12:06:56Z","v":13.9},
{"p":"h","k":"c","t":"2020-04-30T12:09:18Z","v":15.1},
{"p":"h","k":"c","t":"2020-04-30T12:11:38Z","v":16.5},
{"p":"h","k":"c","t":"2020-04-30T12:13:02Z","v":26.8},
{"p":"h","k":"c","t":"2020-04-30T12:14:35Z","v":39.6},
{"p":"h","k":"c","t":"2020-04-30T12:15:24Z","v":47.6},
{"p":"h","k":"c","t":"2020-04-30T12:17:17Z","v":44.7},
{"p":"h","k":"c","t":"2020-04-30T12:18:56Z","v":35.8},
{"p":"h","k":"c","t":"2020-04-30T12:21:03Z","v":24.9},
{"p":"h","k":"c","t":"2020-04-30T12:23:25Z","v":17.8},
{"p":"h","k":"c","t":"2020-04-30T12:25:45Z","v":15.5},
{"p":"h","k":"c","t":"2020-04-30T12:28:07Z","v":16.2},
{"p":"h","k":"c","t":"2020-04-30T12:29:53Z","v":15.1},
{"p":"h","k":"c","t":"2020-04-30T12:32:14Z","v":13.9},
{"p":"h","k":"c","t":"2020-04-30T12:34:13Z","v":13.3},
{"p":"h","k":"b","t":"2020-04-30T12:07:04Z","t0":"2020-04-30T12:03:39Z","t1":"2020-04-30T12:10:28Z","v":6.5,"e":1.7},
{"p":"h","k":"b","t":"2020-04-30T12:12:32Z","t0":"2020-04-30T12:10:28Z","t1":"2020-04-30T12:14:35Z","v":5.9,"e":0.8},
{"p":"h","k":"b","t":"2020-04-30T12:16:28Z","t0":"2020-04-30T12:14:35Z","t1":"2020-04-30T12:18:20Z","v":14.2,"e":1.5},
{"p":"h","k":"b","t":"2020-04-30T12:20:17Z","t0":"2020-04-30T12:18:20Z","t1":"2020-04-30T12:22:13Z","v":15.5,"e":1.8},
{"p":"h","k":"b","t":"2020-04-30T12:25:03Z","t0":"2020-04-30T12:22:13Z","t1":"2020-04-30T12:27:52Z","v":8.2,"e":1.7},
{"p":"h","k":"b","t":"2020-04-30T12:31:03Z","t0":"2020-04-30T12:27:52Z","t1":"2020-04-30T12:34:13Z","v":6.3,"e":1.7},
{"p":"h","k":"r","t":"2020-04-30T12:16:28Z","t0":"2020-04-30T12:14:35Z","t1":"2020-04-30T12:18:20Z","v":12.0,"e":1.0}
]},
"columns": 4,
"spacing": {"row": 37, "column": 9},
"bounds": "flush",
"concat": [
{"title": {"text": "a", "offset": -17}, "width": 87, "height": 125, "resolve": {"axis": {"x": "independent", "y": "independent"}}, "transform": [{"filter": "datum.p == 'a'"}], "layer": [
 {"transform": [{"filter": "datum.k == 'g'"}], "mark": {"type": "rect", "color": "#2020ff", "opacity": 0.22}, "encoding": {"y": {"field": "lo", "type": "quantitative", "axis": null}, "y2": {"field": "hi"}}},
 {"transform": [{"filter": "datum.k == 'g'"}], "mark": {"type": "rule", "color": "#3a3aff", "strokeWidth": 1.4}, "encoding": {"y": {"field": "v", "type": "quantitative", "axis": null}}},
 {"transform": [{"filter": "datum.k == 'c'"}], "mark": {"type": "line", "color": "#b4b4b4", "strokeWidth": 1, "clip": true}, "encoding": {
   "x": {"field": "t", "type": "temporal", "scale": {"type": "utc", "domain": [{"year":2019,"month":9,"date":30,"hours":22,"minutes":17,"seconds":36,"utc":true},{"year":2019,"month":9,"date":30,"hours":23,"minutes":35,"utc":true}]},
         "axis": {"values": [{"year":2019,"month":9,"date":30,"hours":22,"minutes":41,"utc":true},{"year":2019,"month":9,"date":30,"hours":23,"minutes":8,"utc":true}], "title": "SOL2019-09-30T23:00"}},
   "y": {"field": "v", "type": "quantitative", "scale": {"domain": [2.3, 50]}, "axis": {"values": [10,20,30,40,50], "title": "EM (10⁴⁶ cm⁻³)"}}}},
 {"transform": [{"filter": "datum.k == 'b'"}], "mark": {"type": "line", "interpolate": "step-after", "color": "#cfcfcf", "strokeWidth": 0.8, "clip": true}, "encoding": {"x": {"field": "t0", "type": "temporal", "axis": null}, "y": {"field": "v", "type": "quantitative", "axis": null}}},
 {"transform": [{"filter": "datum.k == 'b' || datum.k == 'r'"}], "mark": {"type": "rule", "strokeWidth": 1.2, "clip": true}, "encoding": {"x": {"field": "t0", "type": "temporal", "axis": null}, "x2": {"field": "t1"}, "y": {"field": "v", "type": "quantitative", "axis": null}, "color": {"field": "k", "type": "nominal", "scale": {"domain": ["b","r"], "range": ["#222222","#ff0000"]}, "legend": null}}},
 {"transform": [{"filter": "datum.k == 'b' || datum.k == 'r'"}], "mark": {"type": "errorbar", "thickness": 1.2}, "encoding": {"x": {"field": "t", "type": "temporal", "axis": null}, "y": {"field": "v", "type": "quantitative", "axis": null}, "yError": {"field": "e"}, "color": {"field": "k", "type": "nominal", "legend": null}}}
]},
{"title": "b", "width": 87, "height": 125, "resolve": {"axis": {"x": "independent", "y": "independent"}}, "transform": [{"filter": "datum.p == 'b'"}], "layer": [
 {"transform": [{"filter": "datum.k == 'g'"}], "mark": {"type": "rect", "color": "#2020ff", "opacity": 0.22}, "encoding": {"y": {"field": "lo", "type": "quantitative", "axis": null}, "y2": {"field": "hi"}}},
 {"transform": [{"filter": "datum.k == 'g'"}], "mark": {"type": "rule", "color": "#3a3aff", "strokeWidth": 1.4}, "encoding": {"y": {"field": "v", "type": "quantitative", "axis": null}}},
 {"transform": [{"filter": "datum.k == 'c'"}], "mark": {"type": "line", "color": "#b4b4b4", "strokeWidth": 1, "clip": true}, "encoding": {
   "x": {"field": "t", "type": "temporal", "scale": {"type": "utc", "domain": [{"year":2019,"month":10,"date":1,"hours":1,"minutes":36,"seconds":12,"utc":true},{"year":2019,"month":10,"date":1,"hours":2,"minutes":4,"seconds":12,"utc":true}]},
         "axis": {"values": [{"year":2019,"month":10,"date":1,"hours":1,"minutes":45,"utc":true},{"year":2019,"month":10,"date":1,"hours":1,"minutes":55,"utc":true}], "title": "SOL2019-10-01T01:44"}},
   "y": {"field": "v", "type": "quantitative", "scale": {"domain": [2.3, 50]}, "axis": null}}},
 {"transform": [{"filter": "datum.k == 'b'"}], "mark": {"type": "line", "interpolate": "step-after", "color": "#cfcfcf", "strokeWidth": 0.8, "clip": true}, "encoding": {"x": {"field": "t0", "type": "temporal", "axis": null}, "y": {"field": "v", "type": "quantitative", "axis": null}}},
 {"transform": [{"filter": "datum.k == 'b' || datum.k == 'r'"}], "mark": {"type": "rule", "strokeWidth": 1.2, "clip": true}, "encoding": {"x": {"field": "t0", "type": "temporal", "axis": null}, "x2": {"field": "t1"}, "y": {"field": "v", "type": "quantitative", "axis": null}, "color": {"field": "k", "type": "nominal", "legend": null}}},
 {"transform": [{"filter": "datum.k == 'b' || datum.k == 'r'"}], "mark": {"type": "errorbar", "thickness": 1.2}, "encoding": {"x": {"field": "t", "type": "temporal", "axis": null}, "y": {"field": "v", "type": "quantitative", "axis": null}, "yError": {"field": "e"}, "color": {"field": "k", "type": "nominal", "legend": null}}}
]},
{"title": "c", "width": 87, "height": 125, "resolve": {"axis": {"x": "independent", "y": "independent"}}, "transform": [{"filter": "datum.p == 'c'"}], "layer": [
 {"transform": [{"filter": "datum.k == 'g'"}], "mark": {"type": "rect", "color": "#2020ff", "opacity": 0.22}, "encoding": {"y": {"field": "lo", "type": "quantitative", "axis": null}, "y2": {"field": "hi"}}},
 {"transform": [{"filter": "datum.k == 'g'"}], "mark": {"type": "rule", "color": "#3a3aff", "strokeWidth": 1.4}, "encoding": {"y": {"field": "v", "type": "quantitative", "axis": null}}},
 {"transform": [{"filter": "datum.k == 'c'"}], "mark": {"type": "line", "color": "#b4b4b4", "strokeWidth": 1, "clip": true}, "encoding": {
   "x": {"field": "t", "type": "temporal", "scale": {"type": "utc", "domain": [{"year":2020,"month":3,"date":11,"hours":5,"minutes":20,"seconds":18,"utc":true},{"year":2020,"month":3,"date":11,"hours":8,"minutes":0,"seconds":48,"utc":true}]},
         "axis": {"values": [{"year":2020,"month":3,"date":11,"hours":6,"minutes":14,"utc":true},{"year":2020,"month":3,"date":11,"hours":7,"minutes":7,"utc":true}], "title": "SOL2020-03-11T05:56"}},
   "y": {"field": "v", "type": "quantitative", "scale": {"domain": [2.3, 50]}, "axis": null}}},
 {"transform": [{"filter": "datum.k == 'b'"}], "mark": {"type": "line", "interpolate": "step-after", "color": "#cfcfcf", "strokeWidth": 0.8, "clip": true}, "encoding": {"x": {"field": "t0", "type": "temporal", "axis": null}, "y": {"field": "v", "type": "quantitative", "axis": null}}},
 {"transform": [{"filter": "datum.k == 'b' || datum.k == 'r'"}], "mark": {"type": "rule", "strokeWidth": 1.2, "clip": true}, "encoding": {"x": {"field": "t0", "type": "temporal", "axis": null}, "x2": {"field": "t1"}, "y": {"field": "v", "type": "quantitative", "axis": null}, "color": {"field": "k", "type": "nominal", "legend": null}}},
 {"transform": [{"filter": "datum.k == 'b' || datum.k == 'r'"}], "mark": {"type": "errorbar", "thickness": 1.2}, "encoding": {"x": {"field": "t", "type": "temporal", "axis": null}, "y": {"field": "v", "type": "quantitative", "axis": null}, "yError": {"field": "e"}, "color": {"field": "k", "type": "nominal", "legend": null}}}
]},
{"title": "d", "width": 87, "height": 125, "resolve": {"axis": {"x": "independent", "y": "independent"}}, "transform": [{"filter": "datum.p == 'd'"}], "layer": [
 {"transform": [{"filter": "datum.k == 'g'"}], "mark": {"type": "rect", "color": "#2020ff", "opacity": 0.22}, "encoding": {"y": {"field": "lo", "type": "quantitative", "axis": null}, "y2": {"field": "hi"}}},
 {"transform": [{"filter": "datum.k == 'g'"}], "mark": {"type": "rule", "color": "#3a3aff", "strokeWidth": 1.4}, "encoding": {"y": {"field": "v", "type": "quantitative", "axis": null}}},
 {"transform": [{"filter": "datum.k == 'c'"}], "mark": {"type": "line", "color": "#b4b4b4", "strokeWidth": 1, "clip": true}, "encoding": {
   "x": {"field": "t", "type": "temporal", "scale": {"type": "utc", "domain": [{"year":2020,"month":4,"date":3,"hours":23,"minutes":34,"seconds":10,"utc":true},{"year":2020,"month":4,"date":4,"hours":2,"minutes":23,"seconds":54,"utc":true}]},
         "axis": {"values": [{"year":2020,"month":4,"date":4,"hours":0,"minutes":31,"utc":true}], "title": "SOL2020-04-04T00:52"}},
   "y": {"field": "v", "type": "quantitative", "scale": {"domain": [2.3, 50]}, "axis": null}}},
 {"transform": [{"filter": "datum.k == 'b'"}], "mark": {"type": "line", "interpolate": "step-after", "color": "#cfcfcf", "strokeWidth": 0.8, "clip": true}, "encoding": {"x": {"field": "t0", "type": "temporal", "axis": null}, "y": {"field": "v", "type": "quantitative", "axis": null}}},
 {"transform": [{"filter": "datum.k == 'b' || datum.k == 'r'"}], "mark": {"type": "rule", "strokeWidth": 1.2, "clip": true}, "encoding": {"x": {"field": "t0", "type": "temporal", "axis": null}, "x2": {"field": "t1"}, "y": {"field": "v", "type": "quantitative", "axis": null}, "color": {"field": "k", "type": "nominal", "legend": null}}},
 {"transform": [{"filter": "datum.k == 'b' || datum.k == 'r'"}], "mark": {"type": "errorbar", "thickness": 1.2}, "encoding": {"x": {"field": "t", "type": "temporal", "axis": null}, "y": {"field": "v", "type": "quantitative", "axis": null}, "yError": {"field": "e"}, "color": {"field": "k", "type": "nominal", "legend": null}}}
]},
{"title": {"text": "e", "offset": -17}, "width": 87, "height": 125, "resolve": {"axis": {"x": "independent", "y": "independent"}}, "transform": [{"filter": "datum.p == 'e'"}], "layer": [
 {"transform": [{"filter": "datum.k == 'g'"}], "mark": {"type": "rect", "color": "#2020ff", "opacity": 0.22}, "encoding": {"y": {"field": "lo", "type": "quantitative", "axis": null}, "y2": {"field": "hi"}}},
 {"transform": [{"filter": "datum.k == 'g'"}], "mark": {"type": "rule", "color": "#3a3aff", "strokeWidth": 1.4}, "encoding": {"y": {"field": "v", "type": "quantitative", "axis": null}}},
 {"transform": [{"filter": "datum.k == 'c'"}], "mark": {"type": "line", "color": "#b4b4b4", "strokeWidth": 1, "clip": true}, "encoding": {
   "x": {"field": "t", "type": "temporal", "scale": {"type": "utc", "domain": [{"year":2020,"month":4,"date":6,"hours":7,"minutes":19,"seconds":6,"utc":true},{"year":2020,"month":4,"date":6,"hours":9,"minutes":47,"utc":true}]},
         "axis": {"values": [{"year":2020,"month":4,"date":6,"hours":8,"minutes":8,"utc":true},{"year":2020,"month":4,"date":6,"hours":8,"minutes":55,"utc":true}], "title": "SOL2020-04-06T08:32"}},
   "y": {"field": "v", "type": "quantitative", "scale": {"domain": [2.3, 50]}, "axis": {"values": [10,20,30,40,50], "title": "EM (10⁴⁶ cm⁻³)"}}}},
 {"transform": [{"filter": "datum.k == 'b'"}], "mark": {"type": "line", "interpolate": "step-after", "color": "#cfcfcf", "strokeWidth": 0.8, "clip": true}, "encoding": {"x": {"field": "t0", "type": "temporal", "axis": null}, "y": {"field": "v", "type": "quantitative", "axis": null}}},
 {"transform": [{"filter": "datum.k == 'b' || datum.k == 'r'"}], "mark": {"type": "rule", "strokeWidth": 1.2, "clip": true}, "encoding": {"x": {"field": "t0", "type": "temporal", "axis": null}, "x2": {"field": "t1"}, "y": {"field": "v", "type": "quantitative", "axis": null}, "color": {"field": "k", "type": "nominal", "legend": null}}},
 {"transform": [{"filter": "datum.k == 'b' || datum.k == 'r'"}], "mark": {"type": "errorbar", "thickness": 1.2}, "encoding": {"x": {"field": "t", "type": "temporal", "axis": null}, "y": {"field": "v", "type": "quantitative", "axis": null}, "yError": {"field": "e"}, "color": {"field": "k", "type": "nominal", "legend": null}}}
]},
{"title": "f", "width": 87, "height": 125, "resolve": {"axis": {"x": "independent", "y": "independent"}}, "transform": [{"filter": "datum.p == 'f'"}], "layer": [
 {"transform": [{"filter": "datum.k == 'g'"}], "mark": {"type": "rect", "color": "#2020ff", "opacity": 0.22}, "encoding": {"y": {"field": "lo", "type": "quantitative", "axis": null}, "y2": {"field": "hi"}}},
 {"transform": [{"filter": "datum.k == 'g'"}], "mark": {"type": "rule", "color": "#3a3aff", "strokeWidth": 1.4}, "encoding": {"y": {"field": "v", "type": "quantitative", "axis": null}}},
 {"transform": [{"filter": "datum.k == 'c'"}], "mark": {"type": "line", "color": "#b4b4b4", "strokeWidth": 1, "clip": true}, "encoding": {
   "x": {"field": "t", "type": "temporal", "scale": {"type": "utc", "domain": [{"year":2020,"month":4,"date":7,"hours":1,"minutes":1,"seconds":30,"utc":true},{"year":2020,"month":4,"date":7,"hours":2,"minutes":53,"seconds":30,"utc":true}]},
         "axis": {"values": [{"year":2020,"month":4,"date":7,"hours":1,"minutes":39,"utc":true},{"year":2020,"month":4,"date":7,"hours":2,"minutes":16,"utc":true}], "title": "SOL2020-04-07T01:58"}},
   "y": {"field": "v", "type": "quantitative", "scale": {"domain": [2.3, 50]}, "axis": null}}},
 {"transform": [{"filter": "datum.k == 'b'"}], "mark": {"type": "line", "interpolate": "step-after", "color": "#cfcfcf", "strokeWidth": 0.8, "clip": true}, "encoding": {"x": {"field": "t0", "type": "temporal", "axis": null}, "y": {"field": "v", "type": "quantitative", "axis": null}}},
 {"transform": [{"filter": "datum.k == 'b' || datum.k == 'r'"}], "mark": {"type": "rule", "strokeWidth": 1.2, "clip": true}, "encoding": {"x": {"field": "t0", "type": "temporal", "axis": null}, "x2": {"field": "t1"}, "y": {"field": "v", "type": "quantitative", "axis": null}, "color": {"field": "k", "type": "nominal", "legend": null}}},
 {"transform": [{"filter": "datum.k == 'b' || datum.k == 'r'"}], "mark": {"type": "errorbar", "thickness": 1.2}, "encoding": {"x": {"field": "t", "type": "temporal", "axis": null}, "y": {"field": "v", "type": "quantitative", "axis": null}, "yError": {"field": "e"}, "color": {"field": "k", "type": "nominal", "legend": null}}}
]},
{"title": "g", "width": 87, "height": 125, "resolve": {"axis": {"x": "independent", "y": "independent"}}, "transform": [{"filter": "datum.p == 'g'"}], "layer": [
 {"transform": [{"filter": "datum.k == 'g'"}], "mark": {"type": "rect", "color": "#2020ff", "opacity": 0.22}, "encoding": {"y": {"field": "lo", "type": "quantitative", "axis": null}, "y2": {"field": "hi"}}},
 {"transform": [{"filter": "datum.k == 'g'"}], "mark": {"type": "rule", "color": "#3a3aff", "strokeWidth": 1.4}, "encoding": {"y": {"field": "v", "type": "quantitative", "axis": null}}},
 {"transform": [{"filter": "datum.k == 'c'"}], "mark": {"type": "line", "color": "#b4b4b4", "strokeWidth": 1, "clip": true}, "encoding": {
   "x": {"field": "t", "type": "temporal", "scale": {"type": "utc", "domain": [{"year":2020,"month":4,"date":9,"hours":7,"minutes":50,"seconds":54,"utc":true},{"year":2020,"month":4,"date":9,"hours":15,"minutes":19,"seconds":6,"utc":true}]},
         "axis": {"values": [{"year":2020,"month":4,"date":9,"hours":10,"minutes":21,"utc":true},{"year":2020,"month":4,"date":9,"hours":12,"minutes":49,"utc":true}], "title": "SOL2020-04-09T09:32"}},
   "y": {"field": "v", "type": "quantitative", "scale": {"domain": [2.3, 50]}, "axis": null}}},
 {"transform": [{"filter": "datum.k == 'b'"}], "mark": {"type": "line", "interpolate": "step-after", "color": "#cfcfcf", "strokeWidth": 0.8, "clip": true}, "encoding": {"x": {"field": "t0", "type": "temporal", "axis": null}, "y": {"field": "v", "type": "quantitative", "axis": null}}},
 {"transform": [{"filter": "datum.k == 'b' || datum.k == 'r'"}], "mark": {"type": "rule", "strokeWidth": 1.2, "clip": true}, "encoding": {"x": {"field": "t0", "type": "temporal", "axis": null}, "x2": {"field": "t1"}, "y": {"field": "v", "type": "quantitative", "axis": null}, "color": {"field": "k", "type": "nominal", "legend": null}}},
 {"transform": [{"filter": "datum.k == 'b' || datum.k == 'r'"}], "mark": {"type": "errorbar", "thickness": 1.2}, "encoding": {"x": {"field": "t", "type": "temporal", "axis": null}, "y": {"field": "v", "type": "quantitative", "axis": null}, "yError": {"field": "e"}, "color": {"field": "k", "type": "nominal", "legend": null}}}
]},
{"title": "h", "width": 87, "height": 125, "resolve": {"axis": {"x": "independent", "y": "independent"}}, "transform": [{"filter": "datum.p == 'h'"}], "layer": [
 {"transform": [{"filter": "datum.k == 'g'"}], "mark": {"type": "rect", "color": "#2020ff", "opacity": 0.22}, "encoding": {"y": {"field": "lo", "type": "quantitative", "axis": null}, "y2": {"field": "hi"}}},
 {"transform": [{"filter": "datum.k == 'g'"}], "mark": {"type": "rule", "color": "#3a3aff", "strokeWidth": 1.4}, "encoding": {"y": {"field": "v", "type": "quantitative", "axis": null}}},
 {"transform": [{"filter": "datum.k == 'c'"}], "mark": {"type": "line", "color": "#b4b4b4", "strokeWidth": 1, "clip": true}, "encoding": {
   "x": {"field": "t", "type": "temporal", "scale": {"type": "utc", "domain": [{"year":2020,"month":4,"date":30,"hours":12,"minutes":3,"seconds":39,"utc":true},{"year":2020,"month":4,"date":30,"hours":12,"minutes":34,"seconds":13,"utc":true}]},
         "axis": {"values": [{"year":2020,"month":4,"date":30,"hours":12,"minutes":14,"utc":true},{"year":2020,"month":4,"date":30,"hours":12,"minutes":24,"utc":true}], "title": "SOL2020-04-30T12:16"}},
   "y": {"field": "v", "type": "quantitative", "scale": {"domain": [2.3, 50]}, "axis": null}}},
 {"transform": [{"filter": "datum.k == 'b'"}], "mark": {"type": "line", "interpolate": "step-after", "color": "#cfcfcf", "strokeWidth": 0.8, "clip": true}, "encoding": {"x": {"field": "t0", "type": "temporal", "axis": null}, "y": {"field": "v", "type": "quantitative", "axis": null}}},
 {"transform": [{"filter": "datum.k == 'b' || datum.k == 'r'"}], "mark": {"type": "rule", "strokeWidth": 1.2, "clip": true}, "encoding": {"x": {"field": "t0", "type": "temporal", "axis": null}, "x2": {"field": "t1"}, "y": {"field": "v", "type": "quantitative", "axis": null}, "color": {"field": "k", "type": "nominal", "legend": null}}},
 {"transform": [{"filter": "datum.k == 'b' || datum.k == 'r'"}], "mark": {"type": "errorbar", "thickness": 1.2}, "encoding": {"x": {"field": "t", "type": "temporal", "axis": null}, "y": {"field": "v", "type": "quantitative", "axis": null}, "yError": {"field": "e"}, "color": {"field": "k", "type": "nominal", "legend": null}}}
]}
]
}
